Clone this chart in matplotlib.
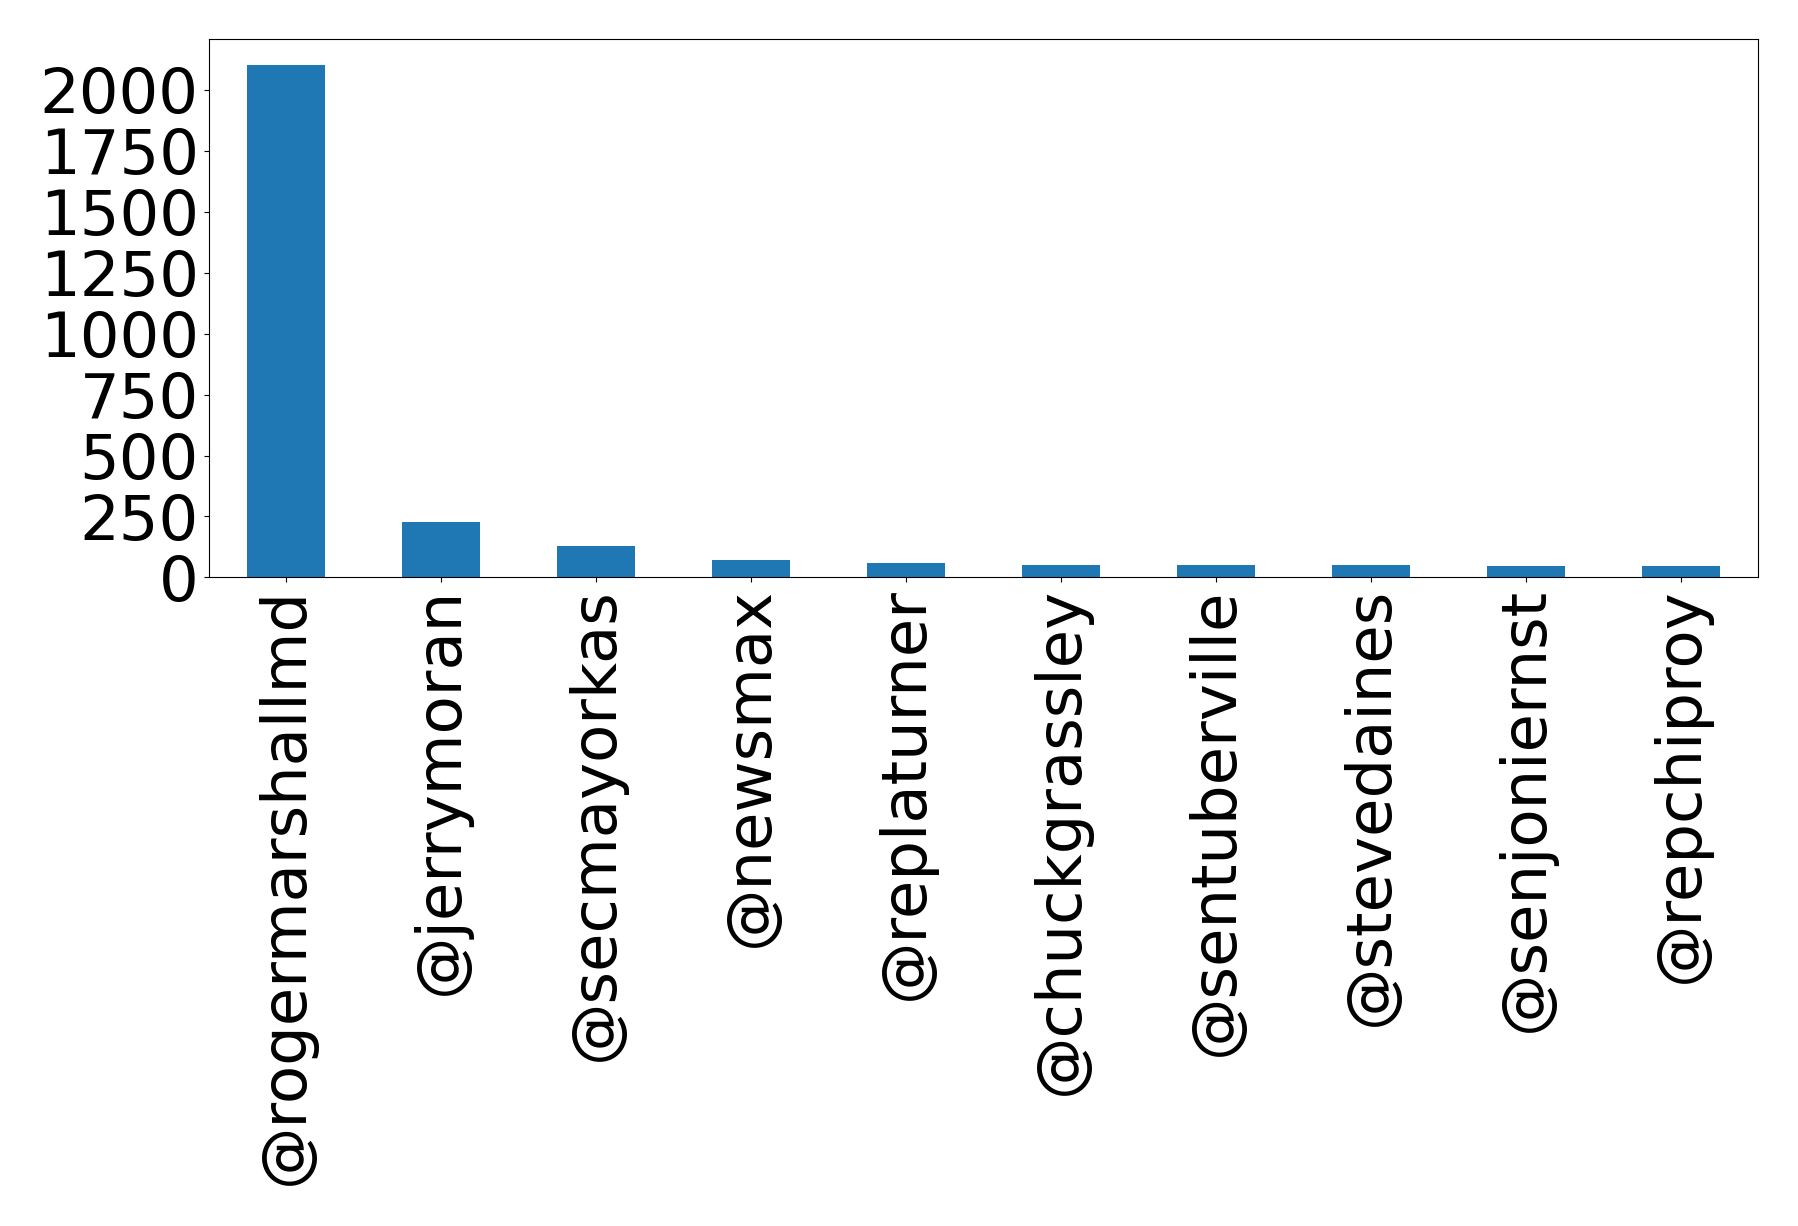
import matplotlib.pyplot as plt

accounts = ['@rogermarshallmd', '@jerrymoran', '@secmayorkas', '@newsmax',
            '@replaturner', '@chuckgrassley', '@sentuberville', '@stevedaines',
            '@senjoniernst', '@repchiproy']
counts = [2102, 229, 131, 70, 61, 53, 49, 49, 45, 45]

fig = plt.figure(figsize=(17.98, 12.26), dpi=100)
ax = fig.add_axes([0.116, 0.529, 0.862, 0.439])

x = range(len(accounts))
ax.bar(x, counts, width=0.5, color='#1f77b4')
ax.set_xlim(-0.5, len(accounts) - 0.5)
ax.set_ylim(0, max(counts) * 1.05)
ax.set_xticks(list(x))
ax.set_xticklabels(accounts, rotation=90)
ax.set_yticks(range(0, 2001, 250))
ax.tick_params(axis='both', labelsize=45)

fig.savefig('out.png', dpi=100)
